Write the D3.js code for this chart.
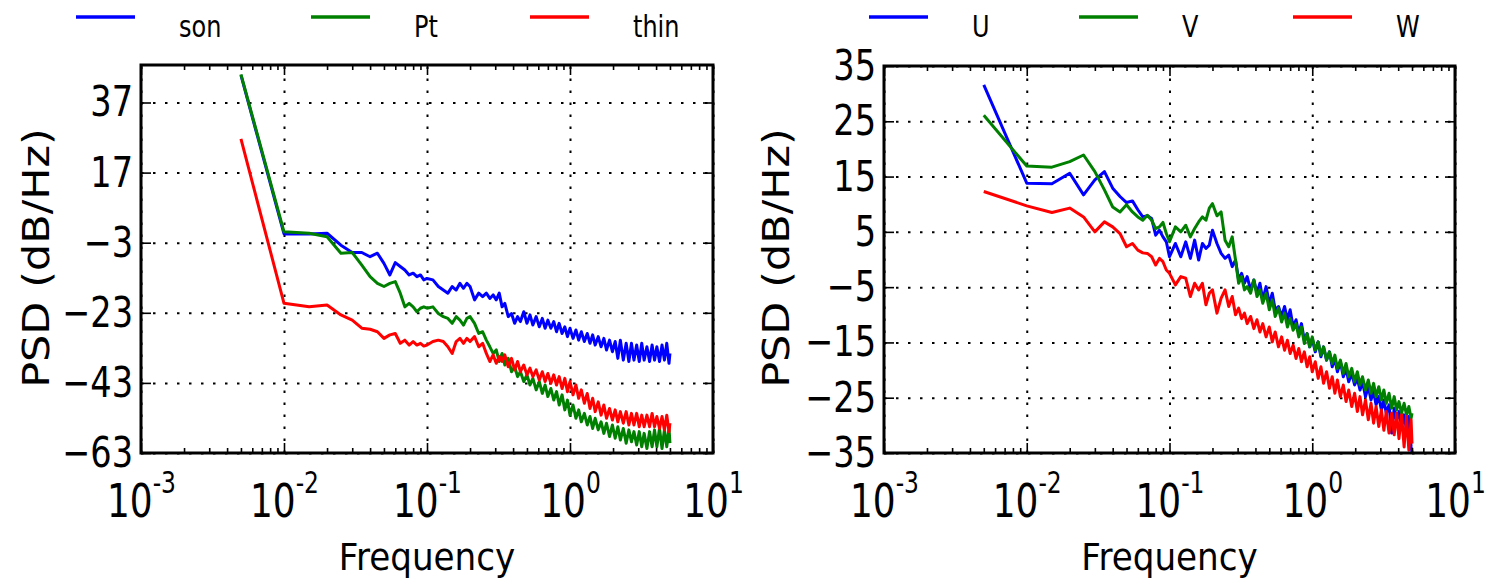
<!DOCTYPE html>
<html>
<head>
<meta charset="utf-8">
<script src="https://cdn.jsdelivr.net/npm/d3@7"></script>
<style>
  body { margin: 0; background: #fff; }
  text { font-family: "DejaVu Sans", sans-serif; fill: #000; }
</style>
</head>
<body>
<svg id="chart"></svg>
<script>
// PSD bins, frequency = bin * df
var df = 0.005;
var bins = [1,2,3,4,5,6,7,8,9,10,11,12,13,14,15,16,17,18,19,20,
  22,24,26,28,30,32,34,36,38,40,43,46,49,52,55,58,61,64,67,70,
  74,78,82,86,90,95,100,105,110,116,122,128,134,140,147,154,161,168,
  176,184,192,200,210,220,230,240,252,264,276,288,300,315,330,345,360,
  378,396,414,432,450,472,494,516,538,560,585,610,635,660,690,720,750,
  780,810,845,880,915,950,985,1000];

// left panel
var sonPSD = [44.8,-0.5,-0.5,-0.3,-3.7,-5.8,-5.8,-7.0,-6.0,-8.9,-12.2,-8.7,-9.8,-10.8,-12.2,-11.7,-12.7,-12.2,-13.6,-13.2,
  -13.6,-15.5,-16.5,-17.4,-15.5,-16.5,-14.6,-16.0,-14.6,-15.5,
  -19.3,-17.4,-18.4,-17.4,-18.9,-17.9,-19.3,-17.4,-21.3,-20.3,
  -24.1,-23.2,-26.0,-24.1,-25.5,-22.7,-26.0,-23.6,-26.5,
  -24.1,-27.0,-24.6,-27.4,-25.1,-27.4,-25.5,-28.4,-26.0,
  -28.9,-27.0,-29.8,-27.4,-30.3,-27.9,-30.8,-28.4,
  -31.2,-28.9,-31.7,-29.3,-32.2,-29.8,-32.7,-30.3,-33.6,
  -30.8,-34.1,-31.2,-36.0,-30.8,-36.5,-31.7,-36.9,-31.7,-36.5,
  -32.2,-36.9,-31.7,-36.5,-32.7,-36.9,-32.2,-36.5,-32.7,
  -36.9,-32.2,-36.5,-31.7,-37.4,-34.6];
var ptPSD = [45.0,0.1,-0.3,-1.3,-6.0,-5.8,-9.4,-12.7,-14.6,-15.5,-14.6,-14.1,-17.4,-21.3,-20.3,-21.3,-22.7,-21.7,-21.3,-21.7,
  -21.3,-23.2,-24.1,-24.6,-26.0,-24.1,-25.1,-26.5,-24.6,-24.1,
  -26.0,-28.9,-28.4,-30.8,-32.7,-34.6,-33.6,-36.9,-34.6,-37.9,
  -36.0,-39.8,-38.4,-41.2,-39.8,-42.6,-40.7,-43.6,-41.7,
  -45.0,-42.6,-46.0,-43.6,-46.9,-44.6,-47.9,-45.5,-49.3,
  -46.4,-50.7,-47.9,-52.2,-49.3,-53.1,-50.7,-54.1,
  -51.7,-55.0,-52.6,-56.0,-53.1,-56.4,-54.1,-57.4,-54.5,
  -58.3,-55.0,-58.8,-55.5,-59.3,-56.0,-60.2,-56.4,-59.8,-56.9,
  -60.7,-56.9,-61.2,-57.4,-61.7,-56.9,-61.2,-56.4,-61.2,
  -56.0,-61.7,-56.4,-61.2,-56.0,-60.2];
var thinPSD = [26.6,-20.3,-21.3,-20.8,-23.6,-25.1,-27.4,-27.7,-28.4,-30.3,-29.3,-28.9,-31.7,-30.8,-32.2,-31.2,-32.2,-31.7,-32.5,-32.2,
  -31.2,-30.8,-31.2,-32.7,-34.6,-31.2,-30.3,-31.7,-30.3,-31.2,
  -29.8,-32.7,-31.7,-34.6,-36.9,-35.0,-37.4,-35.5,-36.9,-35.0,
  -38.4,-36.0,-39.3,-36.9,-39.8,-37.9,-40.7,-38.8,-41.2,
  -39.3,-42.2,-39.8,-42.6,-40.3,-43.1,-40.7,-43.6,-41.2,
  -44.6,-41.7,-45.5,-42.6,-46.4,-43.6,-47.4,-45.0,
  -48.8,-46.0,-50.3,-47.4,-51.2,-48.4,-52.2,-49.3,-53.1,
  -50.3,-53.6,-50.7,-54.1,-51.2,-54.5,-51.2,-55.0,-51.7,-55.0,
  -51.7,-55.5,-52.2,-55.5,-52.2,-55.5,-51.7,-55.5,-52.6,
  -56.0,-52.6,-56.4,-52.2,-56.9,-54.5];

// right panel
var uPSD = [31.6,13.8,13.7,15.6,11.7,14.4,15.9,12.9,11.4,10.3,10.6,9.0,7.7,7.9,7.4,4.4,5.3,4.1,3.2,0.5,
  2.9,0.5,3.2,0.2,3.5,-0.1,2.9,2.0,2.6,5.3,
  2.9,1.1,0.2,0.8,-1.3,-0.1,-3.7,-2.5,-4.3,-3.1,
  -5.5,-3.7,-6.1,-4.3,-7.3,-4.9,-7.9,-6.1,-9.1,
  -8.5,-10.3,-8.5,-10.9,-9.1,-12.2,-10.9,-13.4,-11.6,
  -14.6,-13.4,-15.8,-14.3,-16.7,-14.9,-17.6,-15.8,
  -18.2,-16.7,-19.4,-17.9,-20.3,-18.5,-21.2,-19.7,-22.1,
  -20.6,-22.7,-21.5,-23.6,-22.1,-24.8,-23.0,-25.4,-23.9,-26.3,
  -24.8,-27.2,-25.4,-27.8,-26.3,-31.4,-26.9,-29.0,-27.5,
  -30.2,-28.1,-30.9,-28.4,-33.9,-34.9];
var vPSD = [26.1,16.9,16.7,17.7,18.9,15.9,12.6,9.5,8.6,9.9,8.6,7.7,7.1,8.0,7.1,5.6,5.9,6.7,4.7,3.2,
  5.9,5.0,6.2,4.1,5.6,6.8,7.7,7.1,9.3,10.1,
  7.9,8.6,3.5,2.3,4.1,-0.1,-4.3,-3.1,-5.5,-4.9,
  -6.1,-3.7,-6.7,-5.5,-7.9,-6.1,-9.1,-7.3,-10.3,
  -8.8,-11.3,-9.7,-12.2,-10.7,-12.8,-11.6,-14.0,-12.2,
  -15.2,-13.4,-15.8,-14.0,-16.4,-14.9,-17.3,-15.8,
  -18.2,-16.7,-18.8,-17.3,-19.7,-18.2,-20.6,-18.8,-21.2,
  -19.7,-22.1,-20.3,-22.7,-21.2,-23.6,-21.8,-24.2,-22.4,-24.8,
  -23.0,-25.4,-23.6,-26.0,-24.2,-26.9,-24.8,-27.2,-25.7,
  -27.8,-26.0,-28.1,-26.6,-28.7,-27.8];
var wPSD = [12.3,9.7,8.5,9.3,7.7,5.0,6.8,5.9,4.7,2.3,2.9,1.7,1.2,1.1,0.5,-1.0,0.2,-0.4,-1.9,-2.5,
  -4.6,-3.1,-3.4,-6.7,-4.3,-5.5,-4.3,-8.2,-6.1,-5.5,
  -9.7,-7.0,-5.5,-8.5,-6.7,-10.0,-8.8,-10.7,-9.7,-11.6,
  -10.3,-12.5,-10.9,-13.1,-11.6,-14.0,-12.2,-14.9,-13.1,
  -15.8,-14.0,-16.4,-14.6,-17.0,-15.5,-17.9,-16.1,-18.5,
  -16.7,-19.4,-17.6,-20.3,-18.5,-21.5,-19.4,-22.4,
  -20.3,-23.3,-21.2,-24.2,-21.8,-24.8,-22.7,-25.7,-23.6,
  -26.6,-24.2,-27.5,-24.8,-28.1,-25.4,-29.0,-26.0,-29.6,-26.6,
  -30.2,-27.2,-30.9,-27.5,-31.4,-27.8,-31.7,-27.8,-32.4,
  -28.1,-33.9,-28.4,-34.5,-29.0,-33.3];

var yTicksL = [37, 17, -3, -23, -43, -63];
var yTicksR = [35, 25, 15, 5, -5, -15, -25, -35];
var xDecades = [1e-3, 1e-2, 1e-1, 1e0, 1e1];
var xExponents = ['-3', '-2', '-1', '0', '1'];
var legendL = ['son', 'Pt', 'thin'];
var legendR = ['U', 'V', 'W'];
var colors = ['#0000ff', '#008000', '#ff0000'];

var svg = d3.select('#chart').attr('width', 1490).attr('height', 581);

// minor log ticks 2..9 per decade
var xMinor = [];
xDecades.slice(0, 4).forEach(function (d) {
  for (var m = 2; m < 10; m++) xMinor.push(d * m);
});

var panels = [
  {id: 'L', left: 141, top: 65, width: 572, height: 388, yDomain: [-63, 47.7], yTicks: yTicksL,
   series: [sonPSD, ptPSD, thinPSD], names: legendL, legendX: [76, 311, 530], labelX: 49},
  {id: 'R', left: 884, top: 66, width: 571, height: 387, yDomain: [-35, 35], yTicks: yTicksR,
   series: [uPSD, vPSD, wPSD], names: legendR, legendX: [869, 1079, 1293], labelX: 789}
];

function draw(p) {
  var w = p.width, h = p.height;
  var x = d3.scaleLog().domain([1e-3, 10]).range([0, w]);
  var y = d3.scaleLinear().domain(p.yDomain).range([h, 0]);
  var g = svg.append('g').attr('transform', 'translate(' + p.left + ',' + p.top + ')');

  svg.append('clipPath').attr('id', 'clip' + p.id)
    .append('rect').attr('width', w).attr('height', h);

  // dotted grid
  var gy = g.append('g')
    .call(d3.axisLeft(y).tickValues(p.yTicks).tickSize(-w).tickFormat(''));
  var gx = g.append('g').attr('transform', 'translate(0,' + h + ')')
    .call(d3.axisBottom(x).tickValues(xDecades).tickSize(-h).tickFormat(''));
  [gy, gx].forEach(function (a) {
    a.select('.domain').remove();
    a.selectAll('line').attr('stroke', '#000').attr('stroke-width', 2)
      .attr('stroke-dasharray', '2.5,9.5');
  });

  // spectra
  var line = d3.line()
    .x(function (d) { return x(d[0]); })
    .y(function (d) { return y(d[1]); });
  p.series.forEach(function (s, i) {
    var pts = bins.map(function (b, j) { return [b * df, s[j]]; });
    g.append('path').datum(pts)
      .attr('clip-path', 'url(#clip' + p.id + ')')
      .attr('fill', 'none')
      .attr('stroke', colors[i])
      .attr('stroke-width', 3)
      .attr('stroke-linejoin', 'round')
      .attr('d', line);
  });

  // ticks, all pointing inward
  var left = g.append('g')
    .call(d3.axisLeft(y).tickValues(p.yTicks).tickSize(-10).tickFormat(d3.format('')));
  left.selectAll('text')
    .attr('x', 0).attr('font-size', 42)
    .attr('transform', 'translate(-8,0) scale(0.8,1)');
  g.append('g').attr('transform', 'translate(' + w + ',0)')
    .call(d3.axisRight(y).tickValues(p.yTicks).tickSize(-10).tickFormat(''));

  var bottom = g.append('g').attr('transform', 'translate(0,' + h + ')')
    .call(d3.axisBottom(x).tickValues(xDecades).tickSize(-10).tickFormat(''));
  bottom.selectAll('.tick text').each(function (d, i) {
    var t = d3.select(this).attr('y', 64).attr('dy', null)
      .attr('font-size', 46).attr('transform', 'scale(0.78,1)');
    t.append('tspan').text('10');
    t.append('tspan').attr('font-size', 30).attr('dy', -24).text(xExponents[i]);
  });
  g.append('g').attr('transform', 'translate(0,' + h + ')')
    .call(d3.axisBottom(x).tickValues(xMinor).tickSize(-5).tickFormat(''));
  g.append('g')
    .call(d3.axisTop(x).tickValues(xDecades).tickSize(-10).tickFormat(''));
  g.append('g')
    .call(d3.axisTop(x).tickValues(xMinor).tickSize(-5).tickFormat(''));

  g.selectAll('.domain').remove();
  g.selectAll('.tick line:not([stroke-dasharray])').attr('stroke', '#000').attr('stroke-width', 1.6);

  // frame
  g.append('rect').attr('width', w).attr('height', h)
    .attr('fill', 'none').attr('stroke', '#000').attr('stroke-width', 3);

  // axis labels
  svg.append('text')
    .attr('text-anchor', 'middle').attr('font-size', 38)
    .attr('transform', 'translate(' + (p.left + w / 2) + ',570) scale(0.9,1)')
    .text('Frequency');
  svg.append('text')
    .attr('text-anchor', 'middle').attr('font-size', 43)
    .attr('transform', 'translate(' + p.labelX + ',258) rotate(-90) scale(1,0.86)')
    .text('PSD (dB/Hz)');

  // legend above the panel
  p.names.forEach(function (n, i) {
    var lx = p.legendX[i];
    svg.append('line')
      .attr('x1', lx).attr('x2', lx + 59).attr('y1', 17).attr('y2', 17)
      .attr('stroke', colors[i]).attr('stroke-width', 3.5);
    svg.append('text')
      .attr('font-size', 30)
      .attr('transform', 'translate(' + (lx + 103) + ',37) scale(0.8,1)')
      .text(n);
  });
}

panels.forEach(draw);
</script>
</body>
</html>
